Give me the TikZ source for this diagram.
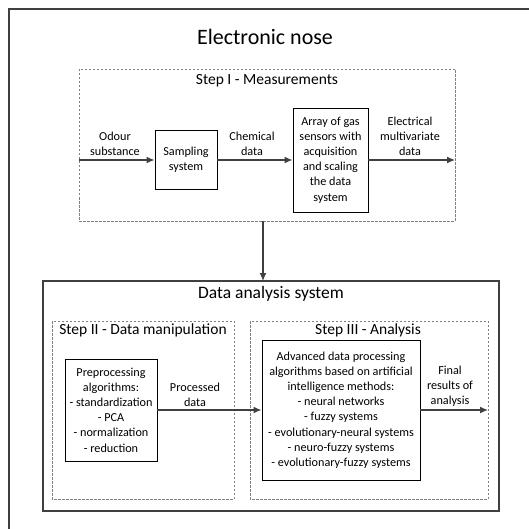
\documentclass[tikz,border=0pt]{standalone}
\usepackage{fontspec}
\setmainfont{Carlito}
\usetikzlibrary{arrows.meta}
\definecolor{framegray}{HTML}{404040}
\definecolor{dashgray}{HTML}{808080}
\begin{document}
\begin{tikzpicture}[x=1pt,y=-1pt,
  bodytext/.style={font=\fontsize{12.2}{15.2}\selectfont, align=center, inner sep=0pt},
  steptitle/.style={font=\fontsize{15.5}{18}\selectfont, inner sep=0pt},
  maintitle/.style={font=\fontsize{22}{26}\selectfont, inner sep=0pt},
  blockbox/.style={draw=black, line width=0.9pt, bodytext, minimum width=#1},
  stepframe/.style={draw=dashgray, line width=0.9pt, dash pattern=on 2.5pt off 1.5pt},
  arr/.style={draw=framegray, line width=1.4pt, -{Latex[length=8pt,width=7pt]}}]
\useasboundingbox (0,0) rectangle (528,529);
\fill[white] (0,0) rectangle (528,529);

% outer frame (runs past the right and bottom edges of the page)
\draw[framegray, line width=2pt] (540,9) -- (9,9) -- (9,540);
\node[maintitle] (title) at (265,37) {Electronic nose};

% Step I
\draw[stepframe] (79,69) rectangle (455,221);
\node[steptitle] (s1title) at (267,81) {Step I - Measurements};
\node[blockbox=62, minimum height=59] (samp) at (186,160) {Sampling\\system};
\node[blockbox=75, minimum height=104] (array) at (330.5,160) {Array of gas\\sensors with\\acquisition\\and scaling\\the data\\system};
\coordinate (in) at (79,160);
\coordinate (out) at (455,160);
\draw[arr] (in) -- (samp);
\draw[arr] (samp) -- (array);
\draw[arr] (array) -- (out);
\node[bodytext] (odour) at (115,144) {Odour\\substance};
\node[bodytext] (chem) at (252,144) {Chemical\\data};
\node[bodytext] (elec) at (410,136.5) {Electrical\\multivariate\\data};

% link between the two stages
\coordinate (v1) at (263,221);
\coordinate (v2) at (263,281);
\draw[arr] (v1) -- (v2);

% Data analysis system
\draw[framegray, line width=2pt] (43,281) rectangle (499,511);
\node[maintitle, font=\fontsize{17.5}{21}\selectfont] (dastitle) at (271,294) {Data analysis system};

% Step II
\draw[stepframe] (52,321) rectangle (234,499);
\node[steptitle] (s2title) at (143,330) {Step II - Data manipulation};
\node[blockbox=92, minimum height=102] (prep) at (111,410) {Preprocessing\\algorithms:\\- standardization\\- PCA\\- normalization\\- reduction};

% Step III
\draw[stepframe] (250,321) rectangle (488,499);
\node[steptitle] (s3title) at (368,330) {Step III - Analysis};
\node[blockbox=158, minimum height=140] (anal) at (341,410) {Advanced data processing\\algorithms based on artificial\\intelligence methods:\\- neural networks\\- fuzzy systems\\- evolutionary-neural systems\\- neuro-fuzzy systems\\- evolutionary-fuzzy systems};
\coordinate (res) at (488,410);
\draw[arr] (prep) -- (anal);
\draw[arr] (anal) -- (res);
\node[bodytext] (proc) at (195,395) {Processed\\data};
\node[bodytext] (final) at (450,386.5) {Final\\results of\\analysis};
\end{tikzpicture}
\end{document}
